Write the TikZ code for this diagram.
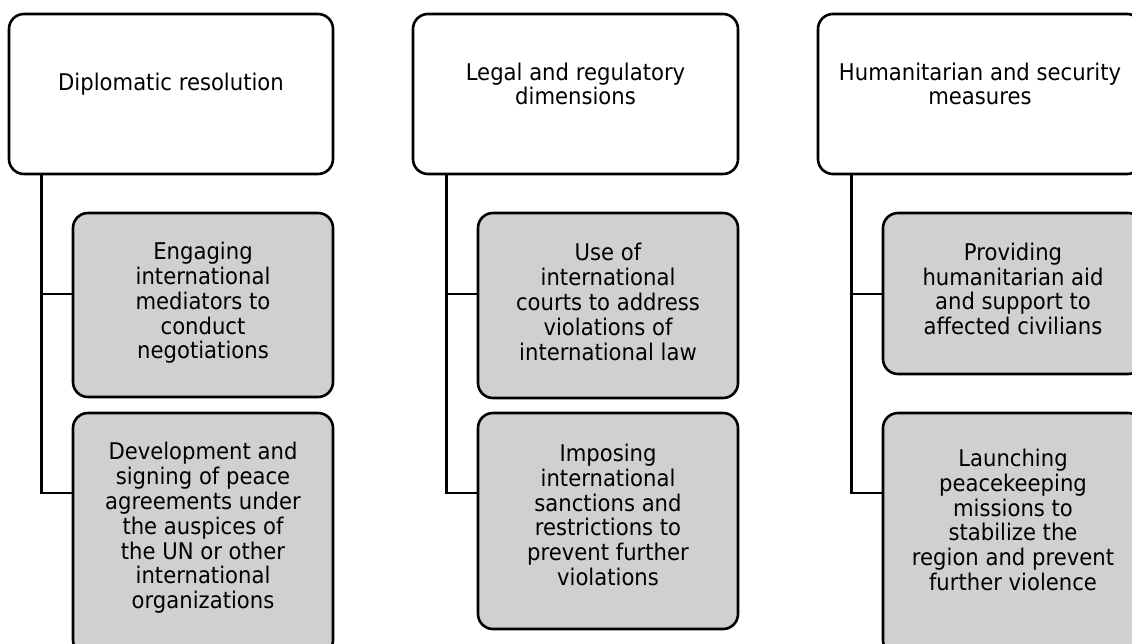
\documentclass[tikz,border=0pt]{standalone}
\usepackage{fontspec}
\setmainfont{DejaVu Sans}[FakeStretch=0.92]
\definecolor{boxgray}{RGB}{208,208,208}
\begin{document}
\begin{tikzpicture}[x=1pt,y=-1pt,
  box/.style={draw=black, line width=2.6pt, rounded corners=15pt, inner sep=0pt},
  topbox/.style={box, fill=white, minimum width=324pt, minimum height=160pt},
  subbox/.style={box, fill=boxgray, minimum width=260pt},
  txt/.style={align=center, inner sep=0pt, font=\fontsize{23}{24.8}\selectfont},
  conn/.style={draw=black, line width=2.8pt}]
\useasboundingbox (0,0) rectangle (1132,644);
\clip (0,0) rectangle (1132,644);
\fill[white] (0,0) rectangle (1132,644);

\coordinate (La) at (41.5,294);
\coordinate (Lb) at (41.5,493);
\coordinate (Ma) at (446.5,294);
\coordinate (Mb) at (446.5,493);
\coordinate (Ra) at (851.5,294);
\coordinate (Rb) at (851.5,493);

% boxes
\node[topbox] (L0) at (171,94) {};
\node[subbox, minimum height=184pt] (L1) at (203,305) {};
\node[subbox, minimum height=242pt] (L2) at (203,534) {};

\node[topbox, minimum width=325pt] (M0) at (575.5,94) {};
\node[subbox, minimum height=185pt] (M1) at (608,305.5) {};
\node[subbox, minimum height=216pt] (M2) at (608,521) {};

\node[topbox] (R0) at (980,94) {};
\node[subbox, minimum height=161pt] (R1) at (1013,293.5) {};
\node[subbox, minimum height=242pt] (R2) at (1013,534) {};

% connectors
\draw[conn] (La |- L0.south) -- (Lb) -- (Lb -| L2.west);
\draw[conn] (La) -- (La -| L1.west);
\draw[conn] (Ma |- M0.south) -- (Mb) -- (Mb -| M2.west);
\draw[conn] (Ma) -- (Ma -| M1.west);
\draw[conn] (Ra |- R0.south) -- (Rb) -- (Rb -| R2.west);
\draw[conn] (Ra) -- (Ra -| R1.west);

% texts
\node[txt] (tL0) at (171,84) {Diplomatic resolution};
\node[txt] (tM0) at (575.5,84) {Legal and regulatory\\dimensions};
\node[txt] (tR0) at (980,84) {Humanitarian and security\\measures};

\node[txt] (tL1) at (203,303) {Engaging\\international\\mediators to\\conduct\\negotiations};
\node[txt] (tL2) at (203,528) {Development and\\signing of peace\\agreements under\\the auspices of\\the UN or other\\international\\organizations};

\node[txt] (tM1) at (608,302) {Use of\\international\\courts to address\\violations of\\international law};
\node[txt] (tM2) at (608,515) {Imposing\\international\\sanctions and\\restrictions to\\prevent further\\violations};

\node[txt] (tR1) at (1013,289) {Providing\\humanitarian aid\\and support to\\affected civilians};
\node[txt] (tR2) at (1013,520) {Launching\\peacekeeping\\missions to\\stabilize the\\region and prevent\\further violence};
\end{tikzpicture}
\end{document}
